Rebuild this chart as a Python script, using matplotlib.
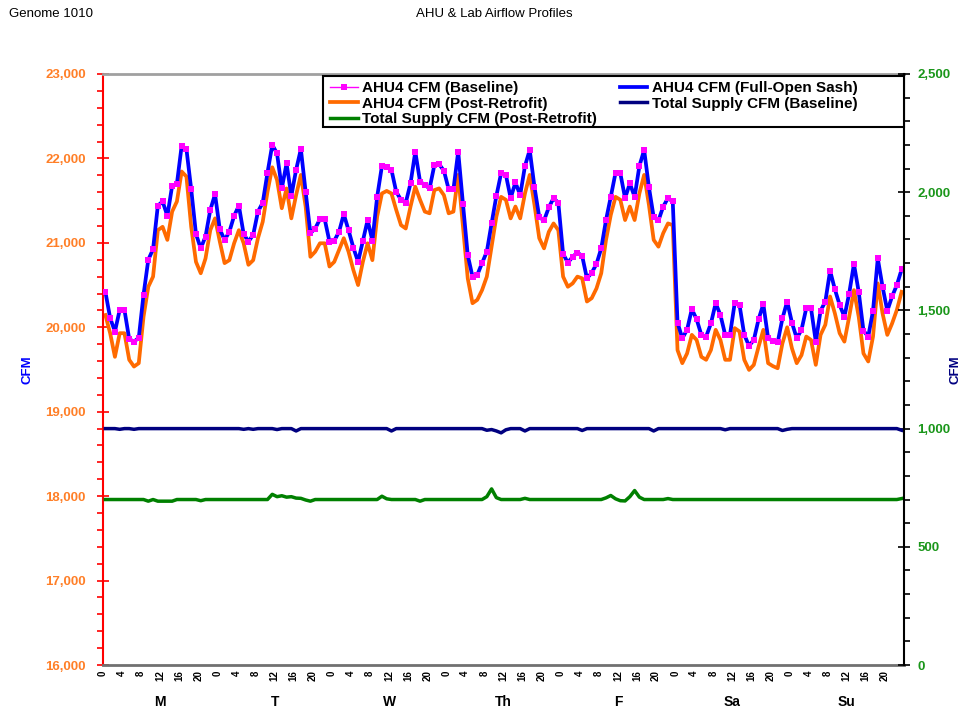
import numpy as np
import matplotlib.pyplot as plt
from matplotlib.ticker import MultipleLocator, FuncFormatter
from matplotlib.patches import Rectangle
import matplotlib.transforms as mtransforms

plt.rcParams['font.family'] = ['Liberation Sans', 'DejaVu Sans']

days = ["M", "T", "W", "Th", "F", "Sa", "Su"]
hour_ticks = [0, 4, 8, 12, 16, 20]

# hourly values, Monday 0h .. Sunday 23h (one line per day)
ahu4_baseline = [
    20420, 20110, 19950, 20205, 20205, 19860, 19830, 19875, 20385, 20800, 20925, 21440, 21490, 21320, 21675, 21700, 22150, 22110, 21635, 21105, 20935, 21075, 21390, 21575,
    21160, 21035, 21130, 21320, 21440, 21105, 21015, 21095, 21370, 21475, 21830, 22160, 22060, 21645, 21940, 21555, 21865, 22110, 21605, 21115, 21170, 21280, 21280, 21015,
    21025, 21130, 21340, 21150, 20945, 20775, 21025, 21270, 21025, 21545, 21910, 21895, 21865, 21605, 21510, 21475, 21705, 22080, 21725, 21685, 21645, 21920, 21930, 21855,
    21635, 21635, 22080, 21460, 20855, 20600, 20620, 20760, 20895, 21230, 21555, 21825, 21805, 21530, 21715, 21565, 21910, 22100, 21660, 21305, 21265, 21420, 21530, 21475,
    20870, 20765, 20835, 20885, 20845, 20580, 20645, 20750, 20935, 21270, 21545, 21830, 21825, 21530, 21705, 21545, 21910, 22100, 21660, 21305, 21265, 21430, 21530, 21490,
    20055, 19870, 19970, 20215, 20095, 19910, 19890, 20045, 20285, 20145, 19910, 19910, 20290, 20265, 19910, 19780, 19850, 20095, 20275, 19870, 19840, 19820, 20105, 20305,
    20055, 19870, 19970, 20225, 20225, 19830, 20195, 20305, 20670, 20450, 20265, 20125, 20400, 20750, 20420, 19960, 19890, 20195, 20815, 20480, 20195, 20365, 20500, 20685,
]

ahu4_full_open = [
    20420, 20110, 19950, 20205, 20205, 19860, 19830, 19875, 20385, 20800, 20925, 21440, 21490, 21320, 21675, 21700, 22150, 22110, 21635, 21105, 20935, 21075, 21390, 21575,
    21160, 21035, 21130, 21320, 21440, 21105, 21015, 21095, 21370, 21475, 21830, 22160, 22060, 21645, 21940, 21555, 21865, 22110, 21605, 21115, 21170, 21280, 21280, 21015,
    21025, 21130, 21340, 21150, 20945, 20775, 21025, 21270, 21025, 21545, 21910, 21895, 21865, 21605, 21510, 21475, 21705, 22080, 21725, 21685, 21645, 21920, 21930, 21855,
    21635, 21635, 22080, 21460, 20855, 20600, 20620, 20760, 20895, 21230, 21555, 21825, 21805, 21530, 21715, 21565, 21910, 22100, 21660, 21305, 21265, 21420, 21530, 21475,
    20870, 20765, 20835, 20885, 20845, 20580, 20645, 20750, 20935, 21270, 21545, 21830, 21825, 21530, 21705, 21545, 21910, 22100, 21660, 21305, 21265, 21430, 21530, 21490,
    20055, 19870, 19970, 20215, 20095, 19910, 19890, 20045, 20285, 20145, 19910, 19910, 20290, 20265, 19910, 19780, 19850, 20095, 20275, 19870, 19840, 19820, 20105, 20305,
    20055, 19870, 19970, 20225, 20225, 19830, 20195, 20305, 20670, 20450, 20265, 20125, 20400, 20750, 20420, 19960, 19890, 20195, 20815, 20480, 20195, 20365, 20500, 20685,
]

ahu4_post = [
    20145, 19930, 19650, 19930, 19930, 19615, 19535, 19575, 20125, 20480, 20600, 21150, 21190, 21035, 21370, 21490, 21845, 21785, 21190, 20775, 20640, 20815, 21150, 21290,
    21015, 20760, 20795, 20995, 21150, 20995, 20740, 20795, 21055, 21250, 21605, 21895, 21745, 21410, 21645, 21290, 21565, 21805, 21430, 20835, 20895, 20995, 20995, 20720,
    20775, 20915, 21055, 20895, 20680, 20500, 20775, 20995, 20795, 21310, 21585, 21615, 21585, 21390, 21210, 21170, 21430, 21665, 21510, 21370, 21350, 21625, 21645, 21565,
    21350, 21370, 21805, 21190, 20580, 20285, 20325, 20440, 20600, 20955, 21310, 21545, 21510, 21290, 21430, 21290, 21585, 21805, 21450, 21055, 20935, 21130, 21230, 21150,
    20600, 20480, 20520, 20600, 20580, 20305, 20345, 20460, 20640, 21035, 21330, 21545, 21510, 21270, 21430, 21270, 21585, 21805, 21450, 21035, 20955, 21115, 21230, 21210,
    19730, 19575, 19690, 19910, 19850, 19650, 19615, 19730, 19970, 19850, 19615, 19615, 19990, 19950, 19615, 19495, 19555, 19770, 19970, 19575, 19540, 19515, 19810, 20000,
    19750, 19575, 19670, 19890, 19850, 19555, 19910, 20030, 20365, 20165, 19930, 19830, 20125, 20440, 20125, 19690, 19595, 19890, 20520, 20165, 19910, 20045, 20205, 20420,
]

supply_baseline = [
    1000, 1000, 1000, 997, 1000, 1000, 997, 1000, 1000, 1000, 1000, 1000, 1000, 1000, 1000, 1000, 1000, 1000, 1000, 1000, 1000, 1000, 1000, 1000,
    1000, 1000, 1000, 1000, 1000, 997, 1000, 997, 1000, 1000, 1000, 1000, 996, 1000, 1000, 1000, 990, 1000, 1000, 1000, 1000, 1000, 1000, 1000,
    1000, 1000, 1000, 1000, 1000, 1000, 1000, 1000, 1000, 1000, 1000, 1000, 990, 1000, 1000, 1000, 1000, 1000, 1000, 1000, 1000, 1000, 1000, 1000,
    1000, 1000, 1000, 1000, 1000, 1000, 1000, 1000, 993, 996, 990, 982, 995, 1000, 1000, 1000, 990, 1000, 1000, 1000, 1000, 1000, 1000, 1000,
    1000, 1000, 1000, 1000, 992, 1000, 1000, 1000, 1000, 1000, 1000, 1000, 1000, 1000, 1000, 1000, 1000, 1000, 1000, 990, 1000, 1000, 1000, 1000,
    1000, 1000, 1000, 1000, 1000, 1000, 1000, 1000, 1000, 1000, 995, 1000, 1000, 1000, 1000, 1000, 1000, 1000, 1000, 1000, 1000, 1000, 992, 997,
    1000, 1000, 1000, 1000, 1000, 1000, 1000, 1000, 1000, 1000, 1000, 1000, 1000, 1000, 1000, 1000, 1000, 1000, 1000, 1000, 1000, 1000, 1000, 993,
]

supply_post = [
    700, 700, 700, 700, 700, 700, 700, 700, 700, 693, 700, 693, 693, 693, 693, 700, 700, 700, 700, 700, 695, 700, 700, 700,
    700, 700, 700, 700, 700, 700, 700, 700, 700, 700, 700, 722, 712, 716, 710, 712, 706, 705, 698, 693, 700, 700, 700, 700,
    700, 700, 700, 700, 700, 700, 700, 700, 700, 700, 714, 703, 700, 700, 700, 700, 700, 700, 693, 700, 700, 700, 700, 700,
    700, 700, 700, 700, 700, 700, 700, 700, 712, 745, 708, 700, 700, 700, 700, 700, 705, 700, 700, 700, 700, 700, 700, 700,
    700, 700, 700, 700, 700, 700, 700, 700, 700, 707, 717, 703, 695, 694, 712, 738, 710, 700, 700, 700, 700, 700, 704, 700,
    700, 700, 700, 700, 700, 700, 700, 700, 700, 700, 700, 700, 700, 700, 700, 700, 700, 700, 700, 700, 700, 700, 700, 700,
    700, 700, 700, 700, 700, 700, 700, 700, 700, 700, 700, 700, 700, 700, 700, 700, 700, 700, 700, 700, 700, 700, 700, 704,
]

W, H = 963, 712
fig = plt.figure(figsize=(W / 100, H / 100), dpi=100)
ax = fig.add_axes([103 / W, 1 - 665 / H, 801 / W, 591 / H])
ax2 = ax.twinx()

x = np.arange(len(ahu4_baseline)) + 0.5

l_post, = ax.plot(x, ahu4_post, color="#FF6A00", lw=2.7, zorder=2, label="AHU4 CFM (Post-Retrofit)")
l_base, = ax.plot(x, ahu4_baseline, color="#FF00FF", lw=1, marker="s", ms=4.2, mew=0,
                  zorder=3, label="AHU4 CFM (Baseline)")
l_open, = ax.plot(x, ahu4_full_open, color="#0000FF", lw=2.7, zorder=4, label="AHU4 CFM (Full-Open Sash)")
ax.plot(x, ahu4_baseline, ls="none", marker="s", ms=4.2, mew=0, color="#FF00FF", zorder=5)

l_sb, = ax2.plot(x, supply_baseline, color="#000080", lw=2.5, label="Total Supply CFM (Baseline)")
l_sp, = ax2.plot(x, supply_post, color="#008000", lw=2.5, label="Total Supply CFM (Post-Retrofit)")

ax.set_xlim(0, 168)
ax.set_ylim(16000, 23000)
ax2.set_ylim(0, 2500)

comma = FuncFormatter(lambda v, p: f"{v:,.0f}")
ax.yaxis.set_major_locator(MultipleLocator(1000))
ax.yaxis.set_minor_locator(MultipleLocator(200))
ax.yaxis.set_major_formatter(comma)
ax2.yaxis.set_major_locator(MultipleLocator(500))
ax2.yaxis.set_minor_locator(MultipleLocator(100))
ax2.yaxis.set_major_formatter(comma)

ax.tick_params(axis="y", which="major", direction="inout", length=9, width=1.2, color="red",
               labelcolor="#FF7F27", labelsize=9.5, pad=8)
ax.tick_params(axis="y", which="minor", direction="out", length=4, width=1.2, color="red")
ax2.tick_params(axis="y", which="major", direction="inout", length=9, width=1.2, color="black",
                labelcolor="#1A961A", labelsize=9.5, pad=5)
ax2.tick_params(axis="y", which="minor", direction="out", length=4, width=1.2, color="black")
for lab in ax.get_yticklabels() + ax2.get_yticklabels():
    lab.set_fontweight("bold")

# hour labels under each day
ax.set_xticks([d * 24 + h for d in range(len(days)) for h in hour_ticks])
ax.set_xticklabels([str(h) for d in range(len(days)) for h in hour_ticks],
                   rotation=90, fontsize=7, fontweight="bold")
ax.set_xticks(range(0, 169, 24), minor=True)
ax.tick_params(axis="x", which="major", length=0, pad=4)
ax.tick_params(axis="x", which="minor", length=4, direction="in", color="#808080")
ax.grid(which="minor", axis="x", color="#C8C8C8", lw=1)

trans = mtransforms.blended_transform_factory(ax.transData, ax.transAxes)
for d, name in enumerate(days):
    ax.text(d * 24 + 12, -0.063, name, transform=trans, ha="center", va="center",
            fontsize=10, fontweight="bold")

# spines
ax.spines["left"].set_color("red")
ax.spines["left"].set_linewidth(1.5)
ax.spines["top"].set_color("#A0A0A0")
ax.spines["top"].set_linewidth(2)
ax.spines["bottom"].set_color("#707070")
ax.spines["bottom"].set_linewidth(2)
ax.spines["right"].set_visible(False)
for s in ["left", "top", "bottom"]:
    ax2.spines[s].set_visible(False)
ax2.spines["right"].set_color("black")
ax2.spines["right"].set_linewidth(1.5)

# legend box
x0 = (323 - 103) / 801
y0 = (665 - 127) / 591
y1 = (665 - 76) / 591
ax2.add_patch(Rectangle((x0, y0), 1 - x0, y1 - y0, transform=ax.transAxes,
                        facecolor="white", edgecolor="black", lw=1.5, zorder=10, clip_on=False))
handles = [l_base, l_post, l_sp, l_open, l_sb]
leg = ax2.legend(handles, [h.get_label() for h in handles], ncol=2, loc="upper left",
                 bbox_to_anchor=((330 - 103) / 801, (665 - 81) / 591), bbox_transform=ax.transAxes,
                 frameon=False, prop={"weight": "bold", "size": 11}, handlelength=1.8,
                 handletextpad=0.3, columnspacing=1.5, labelspacing=0.11, borderpad=0,
                 borderaxespad=0, numpoints=1)
leg.set_zorder(11)

fig.text(27 / W, 1 - 370 / H, "CFM", rotation=90, color="#0000FF", fontsize=9.5,
         fontweight="bold", ha="center", va="center")
fig.text(955 / W, 1 - 370 / H, "CFM", rotation=90, color="#000080", fontsize=9.5,
         fontweight="bold", ha="center", va="center")
fig.text(9 / W, 1 - 14 / H, "Genome 1010", fontsize=9.5, va="center")
fig.text(494 / W, 1 - 14 / H, "AHU & Lab Airflow Profiles", fontsize=9.5, ha="center", va="center")

fig.savefig("out.png", dpi=100)
